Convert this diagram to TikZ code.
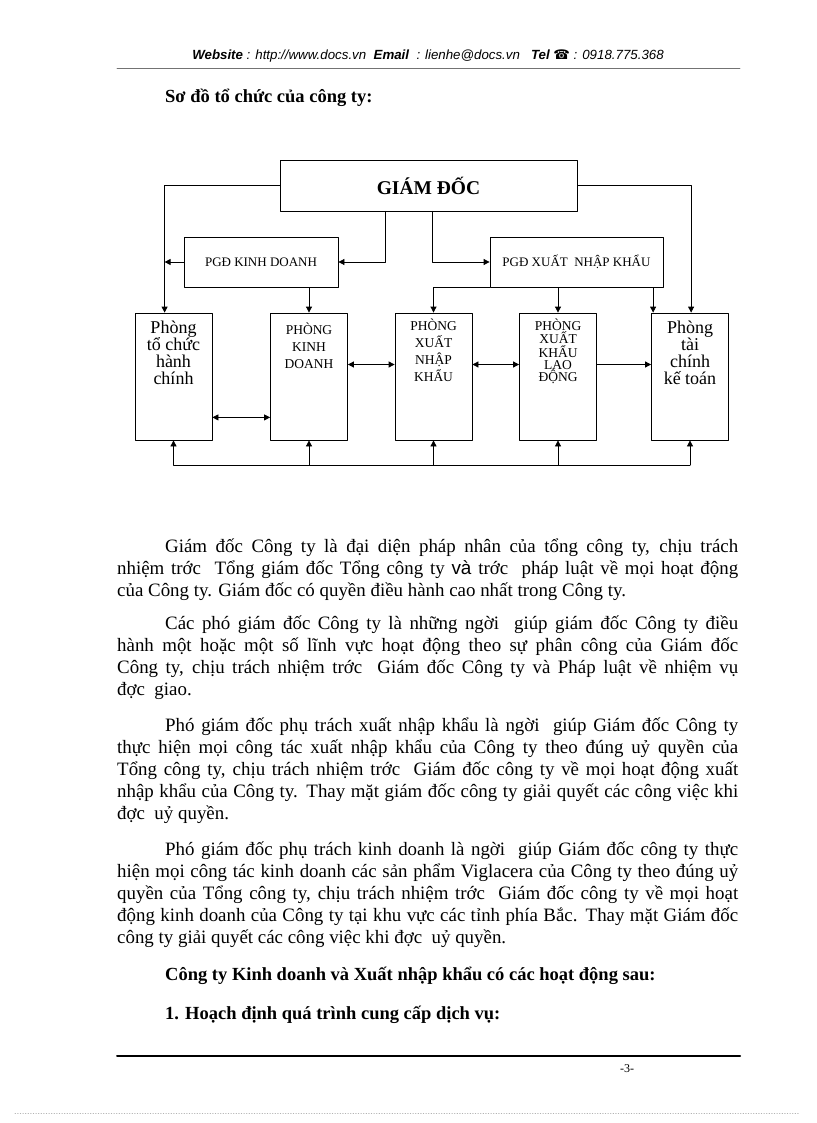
\documentclass[tikz,border=0pt]{standalone}
\usepackage{fontspec}
\setmainfont{Liberation Serif}
\setsansfont{Liberation Sans}
\newfontfamily\phonefont{DejaVu Sans}
\usetikzlibrary{calc, positioning}
\usetikzlibrary{arrows.meta}

% one justified line of body text, and a paragraph's last line
\newcommand{\jline}[1]{\hbox to 621pt{#1}}
\newcommand{\lastline}[1]{\hbox{#1}}
\newcommand{\firstgap}{\hskip 48pt}

\begin{document}
\begin{tikzpicture}[x=1pt, y=-1pt, line join=round, line cap=round,
  orgbox/.style={draw, line width=0.8pt, minimum width=77pt, minimum height=127pt, inner sep=0pt},
  pgdbox/.style={draw, line width=0.8pt, minimum height=50pt, inner sep=0pt, font=\fontsize{13}{15}\selectfont},
  bigtxt/.style={anchor=north, align=center, inner sep=0pt, font=\fontsize{18}{17}\selectfont},
  captxt/.style={anchor=north, align=center, inner sep=0pt, font=\fontsize{13.5}{17}\selectfont},
  link/.style={line width=0.8pt},
  arr/.style={link, -{Triangle[length=6pt, width=6pt]}},
  darr/.style={link, {Triangle[length=6pt, width=6pt]}-{Triangle[length=6pt, width=6pt]}},
  para/.style={anchor=base west, inner sep=0pt, font=\fontsize{18.9}{22}\selectfont},
  heading/.style={anchor=base west, inner sep=0pt, font=\fontsize{18.5}{22}\selectfont\bfseries}]
\useasboundingbox[fill=white] (0,0) rectangle (816,1123);

% Page header
\node[anchor=base, inner sep=0pt, font=\sffamily\itshape\fontsize{13.3}{15}\selectfont] (header) at (428,60)
  {\textbf{Website} : http://www.docs.vn\ \ \textbf{Email}\ \ : lienhe@docs.vn\ \ \ \textbf{Tel} {\phonefont\upshape ☎} : 0918.775.368};
\draw[line width=0.6pt, black!55] (117,68) -- (740,68);

\node[heading] (title) at (165,103) {Sơ đồ tổ chức của công ty:};

% Organisation chart
\node[draw, line width=0.8pt, minimum width=297pt, minimum height=51pt, inner sep=0pt,
  font=\fontsize{19.5}{22}\selectfont\bfseries] (gd) at (428.5,185.5) {GIÁM ĐỐC};
\node[pgdbox, minimum width=154pt] (pgdkd) at (261,262) {PGĐ KINH DOANH};
\node[pgdbox, minimum width=173pt] (pgdxnk) at (576.5,262) {PGĐ XUẤT\ \ NHẬP KHẨU};

\node[orgbox] (ptc) at (173.5,376.5) {};
\node[orgbox] (pkd) at (309,376.5) {};
\node[orgbox] (pxnk) at (433.5,376.5) {};
\node[orgbox] (pxkld) at (558,376.5) {};
\node[orgbox] (ptckt) at (690,376.5) {};

\node[bigtxt] (ptc-t) at ([yshift=-7.7pt]ptc.north) {Phòng\\tổ chức\\hành\\chính};
\node[captxt] (pkd-t) at ([yshift=-10.5pt]pkd.north) {PHÒNG\\KINH\\DOANH};
\node[captxt] (pxnk-t) at ([yshift=-6.5pt]pxnk.north) {PHÒNG\\XUẤT\\NHẬP\\KHẨU};
\node[captxt, font=\fontsize{13.5}{12}\selectfont] (pxkld-t) at ([yshift=-6.5pt]pxkld.north) {PHÒNG\\XUẤT\\KHẨU\\LAO\\ĐỘNG};
\node[bigtxt] (ptckt-t) at ([yshift=-7.7pt]ptckt.north) {Phòng\\tài\\chính\\kế toán};

% Lines from the director
\coordinate (tcline) at ([xshift=30pt]ptc.north west);
\coordinate (tkline) at ([xshift=40pt]ptckt.north west);
\draw[arr] (gd.west) -| (tcline);
\draw[arr] (gd.east) -| (tkline);
\draw[arr] ([xshift=106pt]gd.south west) |- (pgdkd.east);
\draw[arr] ([xshift=153pt]gd.south west) |- (pgdxnk.west);
\draw[arr] (pgdkd.west) -- (pgdkd.west -| tcline);

% Lines from the deputy directors
\draw[arr] (pkd.north |- pgdkd.south) -- (pkd.north);
\draw[arr] (pgdxnk.south west) -| (pxnk.north);
\draw[arr] (pxkld.north |- pgdxnk.south) -- (pxkld.north);
\draw[arr] ([xshift=2pt]ptckt.north west |- pgdxnk.south) -- ([xshift=2pt]ptckt.north west);

% Links between the departments
\draw[darr] ([yshift=23pt]ptc.south east) -- ([yshift=23pt]pkd.south west);
\draw[darr] ([yshift=12pt]pkd.east) -- ([yshift=12pt]pxnk.west);
\draw[darr] ([yshift=12pt]pxnk.east) -- ([yshift=12pt]pxkld.west);
\draw[arr] ([yshift=12pt]pxkld.east) -- ([yshift=12pt]ptckt.west);

% Common line under the departments
\coordinate (bus) at (0,465);
\draw[link] (ptc.south |- bus) -- (ptckt.south |- bus);
\foreach \dept in {ptc, pkd, pxnk, pxkld, ptckt}
  \draw[arr] (\dept.south |- bus) -- (\dept.south);

% Text under the chart
\node[para] (p1) at (117,552) {\vtop{%
  \jline{\firstgap Giám đốc Công ty là đại diện pháp nhân của tổng công ty, chịu trách}
  \jline{nhiệm trớc \ Tổng giám đốc Tổng công ty {\sffamily và} trớc \ pháp luật về mọi hoạt động}
  \lastline{của Công ty. Giám đốc có quyền điều hành cao nhất trong Công ty.}}};
\node[para] (p2) at (117,629) {\vtop{%
  \jline{\firstgap Các phó giám đốc Công ty là những ngời \ giúp giám đốc Công ty điều}
  \jline{hành một hoặc một số lĩnh vực hoạt động theo sự phân công của Giám đốc}
  \jline{Công ty, chịu trách nhiệm trớc \ Giám đốc Công ty và Pháp luật về nhiệm vụ}
  \lastline{đợc \ giao.}}};
\node[para] (p3) at (117,731) {\vtop{%
  \jline{\firstgap Phó giám đốc phụ trách xuất nhập khẩu là ngời \ giúp Giám đốc Công ty}
  \jline{thực hiện mọi công tác xuất nhập khẩu của Công ty theo đúng uỷ quyền của}
  \jline{Tổng công ty, chịu trách nhiệm trớc \ Giám đốc công ty về mọi hoạt động xuất}
  \jline{nhập khẩu của Công ty. Thay mặt giám đốc công ty giải quyết các công việc khi}
  \lastline{đợc \ uỷ quyền.}}};
\node[para] (p4) at (117,855) {\vtop{%
  \jline{\firstgap Phó giám đốc phụ trách kinh doanh là ngời \ giúp Giám đốc công ty thực}
  \jline{hiện mọi công tác kinh doanh các sản phẩm Viglacera của Công ty theo đúng uỷ}
  \jline{quyền của Tổng công ty, chịu trách nhiệm trớc \ Giám đốc công ty về mọi hoạt}
  \jline{động kinh doanh của Công ty tại khu vực các tỉnh phía Bắc. Thay mặt Giám đốc}
  \lastline{công ty giải quyết các công việc khi đợc \ uỷ quyền.}}};

\node[heading] (activities) at (165,980) {Công ty Kinh doanh và Xuất nhập khẩu có các hoạt động sau:};
\node[heading] (planning) at (165,1019) {1. Hoạch định quá trình cung cấp dịch vụ:};

% Page footer
\draw[line width=2pt] (117,1056) -- (740,1056);
\node[anchor=base, inner sep=0pt, font=\fontsize{12}{14}\selectfont] (pageno) at (627,1072) {-3-};
\draw[black!30, dotted, line width=0.6pt] (15,1113) -- (800,1113);
\end{tikzpicture}
\end{document}
